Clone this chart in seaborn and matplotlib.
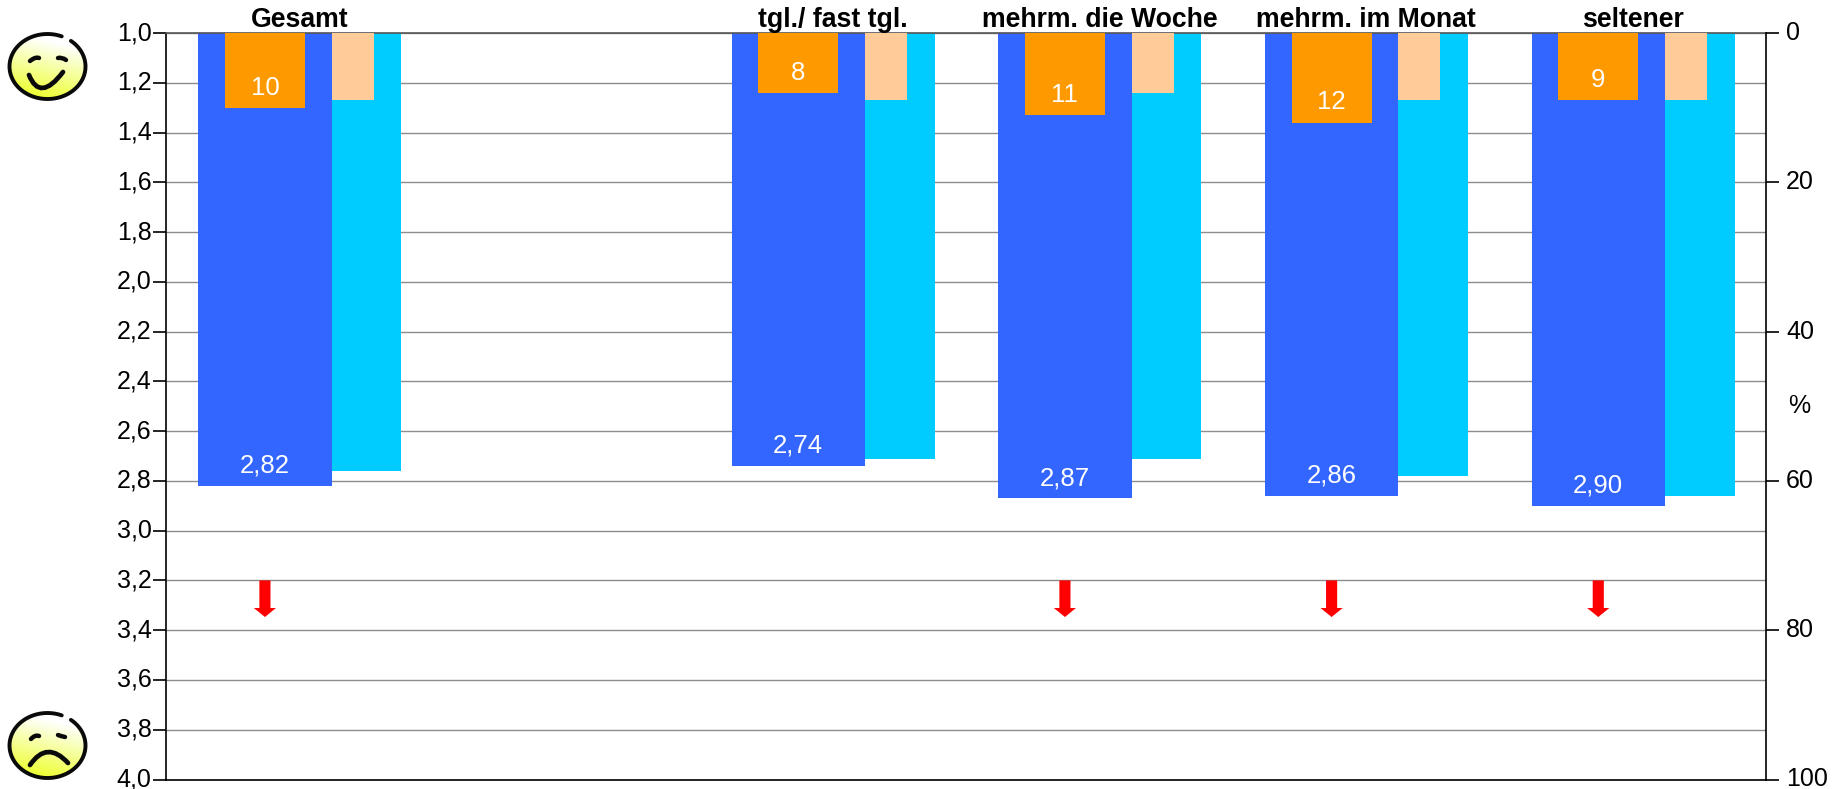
import matplotlib
matplotlib.use("Agg")
import matplotlib.pyplot as plt
from matplotlib.patches import Ellipse, PathPatch
from matplotlib.path import Path
import numpy as np
import pandas as pd
import seaborn as sns

# Survey results per usage frequency; slot 1 stays empty as a separator
groups = ["Gesamt", "tgl./ fast tgl.", "mehrm. die Woche", "mehrm. im Monat", "seltener"]
slots = [0, 2, 3, 4, 5]
mean_current = [2.82, 2.74, 2.87, 2.86, 2.90]
mean_previous = [2.76, 2.71, 2.71, 2.78, 2.86]
share_current = [10, 8, 11, 12, 9]
share_previous = [9, 9, 8, 9, 9]
has_decline = [True, False, True, True, True]
mean_ticks = [1.0, 1.2, 1.4, 1.6, 1.8, 2.0, 2.2, 2.4, 2.6, 2.8, 3.0, 3.2, 3.4, 3.6, 3.8, 4.0]
share_ticks = [0, 20, 40, 60, 80, 100]
decline_start = 3.2
decline_end = 3.347

sns.set_theme(style="white")
plt.rcParams["font.family"] = ["Liberation Sans", "DejaVu Sans"]

W, H = 1841, 789
fig = plt.figure(figsize=(W / 100, H / 100), dpi=100)
fig.patch.set_facecolor("white")
ax = fig.add_axes([166 / W, 1 - 779.5 / H, 1600 / W, (779.5 - 33) / H])
ax2 = ax.twinx()
ax2.set_position(ax.get_position())

frame = pd.DataFrame({"slot": slots, "current": mean_current, "previous": mean_previous,
                      "share_current": share_current, "share_previous": share_previous})
BLUE_X, LIGHT_X, PEACH_X = -0.129, 0.252, 0.2


def bars(axes, column, offset, width, color):
    data = frame.assign(pos=frame["slot"] + offset)
    sns.barplot(data=data, x="pos", y=column, native_scale=True, width=width,
                color=color, saturation=1, linewidth=0, ax=axes)


bars(ax, "current", BLUE_X, 0.5, "#3366FF")
bars(ax, "previous", LIGHT_X, 0.262, "#00CCFF")
bars(ax2, "share_current", BLUE_X, 0.3, "#FF9900")
bars(ax2, "share_previous", PEACH_X, 0.157, "#FFCC99")

for axes in (ax, ax2):
    axes.set_xlim(-0.5, 5.5)
    axes.set_xlabel("")
    axes.set_ylabel("")
    axes.set_xticks([])
ax.set_ylim(4, 1)
ax2.set_ylim(100, 0)

# Left scale: mean score with horizontal grid
ax.set_axisbelow(True)
ax.set_yticks(mean_ticks)
ax.set_yticklabels([f"{t:.1f}".replace(".", ",") for t in mean_ticks], fontsize=18, color="black", va="center")
ax.grid(axis="y", color="#8c8c8c", lw=1.0)
ax.grid(axis="x", visible=False)
ax.tick_params(axis="y", left=True, length=9.5, width=1.2, color="black", pad=1)

# Right scale: percentage
ax2.yaxis.tick_right()
ax2.set_yticks(share_ticks)
ax2.set_yticklabels([str(t) for t in share_ticks], fontsize=18, color="black", va="center")
ax2.tick_params(axis="y", right=True, left=False, length=9.5, width=1.2, color="black", pad=5)
ax2.grid(False)
ax2.text(0.01375 + 1, 0.5, "%", transform=ax2.transAxes, fontsize=18, va="center", ha="left",
         color="black", clip_on=False)

for axes in (ax, ax2):
    for side in axes.spines:
        axes.spines[side].set_visible(False)
ax.spines["left"].set_visible(True)
ax.spines["left"].set(color="black", lw=1.2)
ax.spines["bottom"].set_visible(True)
ax.spines["bottom"].set(color="black", lw=1.2)
ax.spines["top"].set_visible(True)
ax.spines["top"].set(color="#555555", lw=1.2)
ax2.spines["right"].set_visible(True)
ax2.spines["right"].set(color="black", lw=1.2)

# Value labels, group headers and decline arrows
for i, group in enumerate(groups):
    s = slots[i]
    ax.annotate(f"{mean_current[i]:.2f}".replace(".", ","), (s + BLUE_X, mean_current[i]),
                xytext=(0, 14.5), textcoords="offset points", ha="center", va="center",
                fontsize=18.5, color="white")
    ax2.annotate(str(share_current[i]), (s + BLUE_X, share_current[i]),
                 xytext=(0, 14.5), textcoords="offset points", ha="center", va="center",
                 fontsize=18.5, color="white", zorder=6)
    ax.annotate(group, (s, 1), xytext=(0, 9.5), textcoords="offset points", ha="center",
                va="center", fontsize=19.2, fontweight="bold", color="black", annotation_clip=False)
    if has_decline[i]:
        ax.annotate("", xy=(s + BLUE_X, decline_end), xytext=(s + BLUE_X, decline_start),
                    arrowprops=dict(width=8, headwidth=16, headlength=6.5, shrink=0,
                                    facecolor="#FF0000", edgecolor="none", lw=0))

# Smiley faces beside the scale ends, drawn in pixel space
overlay = fig.add_axes([0, 0, 1, 1], facecolor="none")
overlay.set_xlim(0, W)
overlay.set_ylim(H, 0)
overlay.axis("off")


def curve(points, lw):
    (x0, y0), (x1, y1), (x2, y2) = points
    path = Path([(x0, y0), (2 * x1 - (x0 + x2) / 2, 2 * y1 - (y0 + y2) / 2), (x2, y2)],
                [Path.MOVETO, Path.CURVE3, Path.CURVE3])
    overlay.add_patch(PathPatch(path, fc="none", ec="#0a0a0a", lw=lw, capstyle="round", zorder=3))


def face(cx, cy, mouth, eyes):
    rx, ry = 38, 32.5
    gx, gy = np.meshgrid(np.linspace(0, 1, 80), np.linspace(0, 1, 80))
    mix = np.clip(1.25 - gy * 1.1 - (1 - gx) * 0.3, 0, 1)[..., None]
    rgb = mix * np.array([1, 1, 1]) + (1 - mix) * np.array([0.93, 1.0, 0.2])
    img = overlay.imshow(rgb, extent=(cx - rx, cx + rx, cy - ry, cy + ry), origin="lower",
                         aspect="auto", zorder=1)
    clip = Ellipse((cx, cy), 2 * rx, 2 * ry, transform=overlay.transData, fc="none", ec="none")
    overlay.add_patch(clip)
    img.set_clip_path(clip)
    t = np.radians(np.linspace(-52, 292, 120))
    overlay.plot(cx + rx * np.cos(t), cy + ry * np.sin(t), color="#0a0a0a", lw=2.8, zorder=2)
    for pts, lw in [(mouth, 3.4), (eyes[0], 3.2), (eyes[1], 3.2)]:
        curve(pts, lw)


face(47.5, 66.5,
     [(29, 75), (43, 88), (63, 72)],
     [[(30, 61), (35, 58), (39, 58)], [(58, 58), (62, 58), (66, 60)]])
face(47.5, 745.5,
     [(30, 765), (48, 752), (68, 763)],
     [[(31, 739), (35, 736), (39, 736)], [(58, 735), (61, 736), (65, 737)]])
overlay.set_xlim(0, W)
overlay.set_ylim(H, 0)

fig.savefig("out.png", dpi=100, facecolor="white")
